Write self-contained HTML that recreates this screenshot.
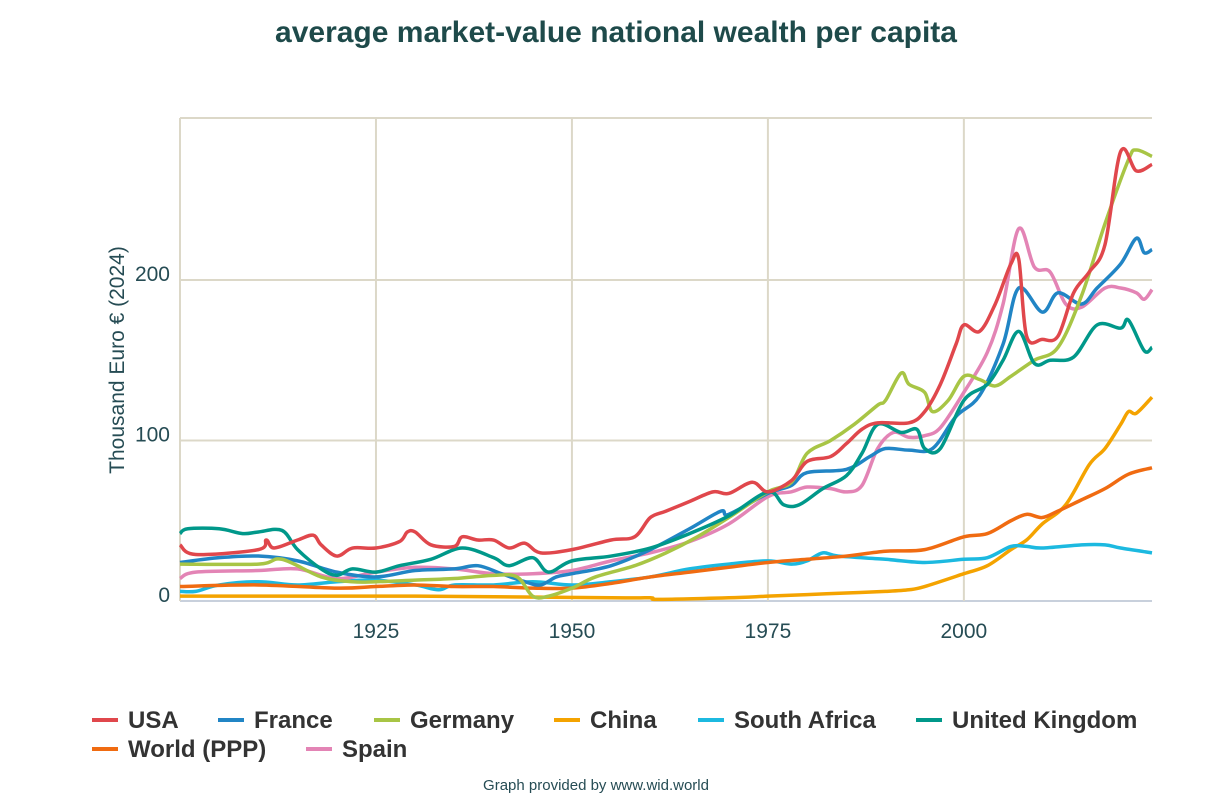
<!DOCTYPE html>
<html><head><meta charset="utf-8"><style>
body{margin:0;background:#fff;font-family:"Liberation Sans",sans-serif;}
svg{display:block}
</style></head><body>
<svg id="c" width="1232" height="800">
<text x="616" y="42" text-anchor="middle" font-size="30" font-weight="bold" fill="#1e4a4a">average market-value national wealth per capita</text>
<g id="grid"></g><g id="lines"></g><g id="legend"></g>
<text transform="translate(124,360) rotate(-90)" text-anchor="middle" font-size="21" fill="#264c54">Thousand Euro € (2024)</text>
<text x="596" y="790" text-anchor="middle" font-size="15" fill="#264c54">Graph provided by www.wid.world</text>
</svg>
<script>
const yTicks=[0,100,200];
const xTicks=[1925,1950,1975,2000];
const seriesNames=["USA","France","Germany","China","South Africa","United Kingdom","World (PPP)","Spain"];
const seriesColors=["#e0474c","#2185c5","#a8c545","#f4a300","#1cb9e0","#00988a","#f06b11","#e384b5"];
const usaYears=[1900,1902,1910,1911,1912,1915,1917,1918,1920,1922,1925,1928,1929,1930,1932,1935,1936,1938,1940,1942,1944,1946,1950,1955,1958,1960,1962,1965,1968,1970,1973,1975,1978,1980,1983,1985,1987,1989,1993,1995,1997,1999,2000,2002,2004,2006,2007,2008,2010,2012,2014,2016,2018,2020,2022,2024];
const usaValues=[35,29,32,38,33,38,41,35,28,33,33,37,43,43,35,34,40,38,38,33,36,30,32,38,40,52,56,62,68,67,74,68,75,87,90,98,107,111,111,118,135,160,172,168,185,210,213,165,163,165,192,205,222,280,268,272];
const franceYears=[1900,1905,1910,1915,1920,1925,1930,1935,1938,1941,1944,1946,1948,1950,1955,1960,1965,1969,1970,1975,1978,1980,1985,1988,1990,1993,1996,1999,2002,2005,2007,2010,2012,2015,2017,2020,2022,2023,2024];
const franceValues=[24,27,28,25,18,15,19,20,22,17,12,10,15,17,22,32,45,56,54,67,72,80,82,90,95,94,95,115,128,160,195,180,192,185,195,210,226,217,219];
const germanyYears=[1900,1910,1913,1918,1922,1925,1930,1935,1940,1943,1945,1947,1950,1953,1958,1962,1966,1970,1975,1978,1980,1983,1986,1989,1990,1992,1993,1995,1996,1998,2000,2002,2004,2006,2009,2012,2015,2018,2021,2022,2024];
const germanyValues=[23,23,26,15,12,12,13,14,16,15,3,3,8,15,22,30,40,52,68,74,92,100,110,122,125,142,135,130,118,125,140,138,134,140,150,158,190,235,275,281,277];
const chinaYears=[1900,1930,1955,1960,1961,1970,1975,1980,1985,1990,1993,1995,2000,2003,2006,2008,2010,2013,2016,2018,2020,2021,2022,2024];
const chinaValues=[3,3,2,2,1,2,3,4,5,6,7,9,17,22,32,38,48,60,85,95,110,118,117,127];
const saYears=[1900,1902,1905,1910,1915,1920,1925,1930,1933,1935,1940,1945,1950,1955,1960,1965,1970,1975,1978,1980,1982,1984,1990,1995,2000,2003,2006,2008,2010,2015,2018,2020,2024];
const saValues=[6,6,10,12,10,12,13,10,7,10,10,12,10,12,15,20,23,25,23,25,30,28,26,24,26,27,34,34,33,35,35,33,30];
const ukYears=[1900,1901,1905,1908,1910,1913,1915,1918,1920,1922,1925,1928,1932,1936,1940,1942,1945,1947,1950,1955,1960,1965,1970,1975,1977,1979,1982,1985,1987,1989,1992,1994,1995,1997,2000,2003,2005,2007,2009,2011,2014,2017,2020,2021,2023,2024];
const ukValues=[42,45,45,42,43,44,32,20,16,20,18,22,26,33,27,22,27,18,25,28,33,42,53,68,60,60,70,78,92,110,105,107,95,95,125,135,150,168,148,150,152,172,170,175,156,158];
const worldYears=[1900,1910,1920,1925,1930,1935,1940,1945,1950,1955,1960,1965,1970,1975,1980,1985,1990,1995,2000,2003,2006,2008,2010,2012,2015,2018,2021,2024];
const worldValues=[9,10,8,9,10,9,9,8,8,11,15,18,21,24,26,28,31,32,40,42,50,54,52,56,63,70,79,83];
const spainYears=[1900,1902,1910,1915,1920,1925,1930,1935,1940,1945,1950,1955,1960,1965,1970,1975,1978,1980,1983,1985,1987,1989,1991,1993,1995,1997,2000,2003,2005,2007,2009,2011,2013,2015,2018,2020,2022,2023,2024];
const spainValues=[14,18,19,20,14,18,21,20,17,17,19,25,30,37,48,65,68,71,70,68,72,95,105,102,103,108,130,155,185,232,208,205,185,183,195,195,192,188,194];
const allYears=[usaYears,franceYears,germanyYears,chinaYears,saYears,ukYears,worldYears,spainYears];
const allValues=[usaValues,franceValues,germanyValues,chinaValues,saValues,ukValues,worldValues,spainValues];

const NS="http://www.w3.org/2000/svg";
const X0=180,X1=1152,Y0=601,Y1=118;
const xs=y=>X0+(y-1900)*(X1-X0)/124;
const ys=v=>Y0-v*1.605;
function mk(t,a,p){const e=document.createElementNS(NS,t);for(const k in a)e.setAttribute(k,a[k]);p.appendChild(e);return e;}
const grid=document.getElementById('grid');
yTicks.forEach(t=>{
 const l=mk('line',{x1:X0,x2:X1,y1:ys(t),y2:ys(t),stroke:t===0?'#c8d0dc':'#dcd8c8','stroke-width':2},grid);
 
 
 const tx=mk('text',{x:170,y:ys(t)+1,'text-anchor':'end','font-size':21,fill:'#264c54'},grid);
 tx.textContent=t;
 
 
});
const topLine=mk('line',{x1:X0,x2:X1,y1:Y1,y2:Y1,stroke:'#dcd8c8','stroke-width':2},grid);


const leftLine=mk('line',{x1:X0,x2:X0,y1:Y1,y2:Y0,stroke:'#dcd8c8','stroke-width':2},grid);


xTicks.forEach(t=>{
 const l=mk('line',{x1:xs(t),x2:xs(t),y1:Y1,y2:Y0,stroke:'#dcd8c8','stroke-width':2},grid);
 
 
 const tx=mk('text',{x:xs(t),y:638,'text-anchor':'middle','font-size':21,fill:'#264c54'},grid);
 tx.textContent=t;
 
 
});
function path(pts){let d=`M${pts[0][0]},${pts[0][1]}`;
 for(let i=0;i<pts.length-1;i++){const p0=pts[i-1]||pts[i],p1=pts[i],p2=pts[i+1],p3=pts[i+2]||p2;
  d+=` C${p1[0]+(p2[0]-p0[0])/6},${p1[1]+(p2[1]-p0[1])/6} ${p2[0]-(p3[0]-p1[0])/6},${p2[1]-(p3[1]-p1[1])/6} ${p2[0]},${p2[1]}`;}
 return d;}
const lines=document.getElementById('lines');
const order=[3,4,6,7,1,2,5,0];
order.forEach(i=>{
 const pts=allYears[i].map((y,j)=>[xs(y),ys(allValues[i][j])]);
 const p=mk('path',{d:path(pts),fill:'none',stroke:seriesColors[i],'stroke-width':3.5,'stroke-linejoin':'round'},lines);
 
 
});
const legend=document.getElementById('legend');
const legX=[92,218,374,554,698,916,92,306],legY=[720,720,720,720,720,720,749,749];
seriesNames.forEach((n,i)=>{
 const g=mk('g',{},legend);
 
 
 mk('line',{x1:legX[i],x2:legX[i]+26,y1:legY[i],y2:legY[i],stroke:seriesColors[i],'stroke-width':4},g);
 const t=mk('text',{x:legX[i]+36,y:legY[i]+8,'font-size':24,'font-weight':'bold',fill:'#333'},g);
 t.textContent=n;
});
</script>
</body></html>
